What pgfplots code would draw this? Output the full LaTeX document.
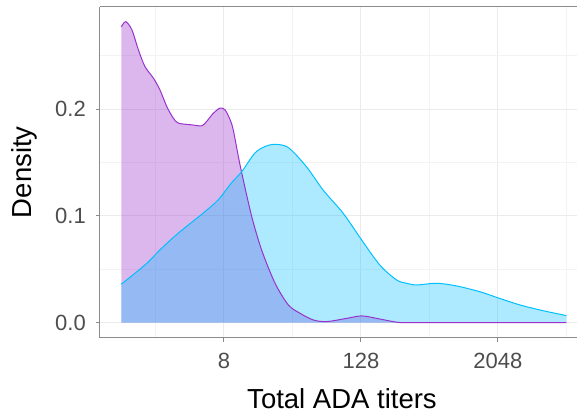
\documentclass[border=0pt]{standalone}
\usepackage{pgfplots}
\pgfplotsset{compat=1.18}
\usepackage{pgfplotstable}
\usepgfplotslibrary{fillbetween}
\usepackage{fontspec}
\setmainfont{Liberation Sans}
\definecolor{purpleline}{HTML}{9932CC}
\definecolor{cyanline}{HTML}{00BFFF}
\definecolor{gridmaj}{HTML}{EBEBEB}
\definecolor{gridmin}{HTML}{F3F3F3}
\definecolor{framecol}{HTML}{8C8C8C}
\definecolor{ticklab}{HTML}{4D4D4D}

\pgfplotstableread{
x y
0.00 0.277
0.13 0.282
0.31 0.2743
0.50 0.2556
0.69 0.240
0.94 0.229
1.13 0.218
1.33 0.2024
1.52 0.1916
1.67 0.1869
2.06 0.1853
2.35 0.1844
2.49 0.1884
2.69 0.1962
2.88 0.2009
3.03 0.1994
3.18 0.190
3.27 0.1806
3.42 0.1556
3.52 0.140
3.81 0.0994
4.10 0.068
4.49 0.037
4.88 0.0166
5.22 0.0088
5.61 0.0025
6.00 0.0010
6.58 0.0040
7.02 0.0063
7.46 0.0040
7.94 0.0010
8.30 0.0
10.0 0.0
13.0 0.0
}\purpletab

\pgfplotstableread{
x y
0.00 0.036
0.69 0.054
1.18 0.0697
1.67 0.084
2.35 0.1015
2.83 0.115
3.22 0.131
3.52 0.1415
3.90 0.1588
4.20 0.165
4.49 0.167
4.88 0.164
5.41 0.146
5.90 0.124
6.48 0.1025
7.02 0.0775
7.55 0.054
8.04 0.040
8.33 0.0369
8.63 0.0353
9.21 0.0369
9.79 0.0344
10.47 0.029
10.99 0.0234
11.64 0.0166
12.32 0.0112
13.00 0.0066
}\cyantab

\begin{document}
\begin{tikzpicture}
\begin{axis}[
  at={(99.7pt,76.3pt)}, anchor=south west,
  scale only axis, width=477.3pt, height=331pt,
  xmin=-0.63, xmax=13.31, ymin=-0.0141, ymax=0.296,
  axis x line=box, axis y line=left,
  axis line style={-, framecol, line width=1.2pt},
  xtick pos=bottom, ytick pos=left,
  xtick={3,7,11}, xticklabels={8,128,2048},
  minor xtick={1,5,9,13},
  ytick={0,0.1,0.2}, yticklabels={0.0,0.1,0.2},
  minor ytick={0.05,0.15,0.25},
  tick align=outside,
  major tick length=4pt, minor tick length=0pt,
  tick style={framecol, line width=1pt},
  grid=both,
  major grid style={gridmaj, line width=1pt},
  minor grid style={gridmin, line width=0.6pt},
  /pgf/number format/assume math mode=true,
  ticklabel style={font=\fontsize{22}{24}\selectfont, text=ticklab},
  xticklabel style={anchor=base, inner sep=0pt, yshift=-26.6pt},
  yticklabel style={anchor=east, inner sep=0pt, xshift=-9.7pt},
  label style={font=\fontsize{27.5}{30}\selectfont, text=black},
  xlabel={Total ADA titers},
  ylabel={Density},
  xlabel style={at={(axis description cs:0.5076,-0.2124)}, anchor=base, inner sep=0pt},
  ylabel style={at={(axis description cs:-0.1586,0.5)}, anchor=center},
]
\addplot[name path=P, draw=none, smooth, tension=0.5] table[x=x,y=y] {\purpletab};
\addplot[name path=B, draw=none] coordinates {(0,0) (13,0)};
\addplot[fill=purpleline, fill opacity=0.35, draw=none] fill between[of=P and B];
\addplot[purpleline, line width=1pt, smooth, tension=0.5] table[x=x,y=y] {\purpletab};
\addplot[name path=C, draw=none, smooth, tension=0.5] table[x=x,y=y] {\cyantab};
\addplot[fill=cyanline, fill opacity=0.32, draw=none] fill between[of=C and B];
\addplot[cyanline, line width=1pt, smooth, tension=0.5] table[x=x,y=y] {\cyantab};
\end{axis}
\pgfresetboundingbox
\path[use as bounding box] (0,0) rectangle (577pt,414pt);
\end{tikzpicture}
\end{document}
